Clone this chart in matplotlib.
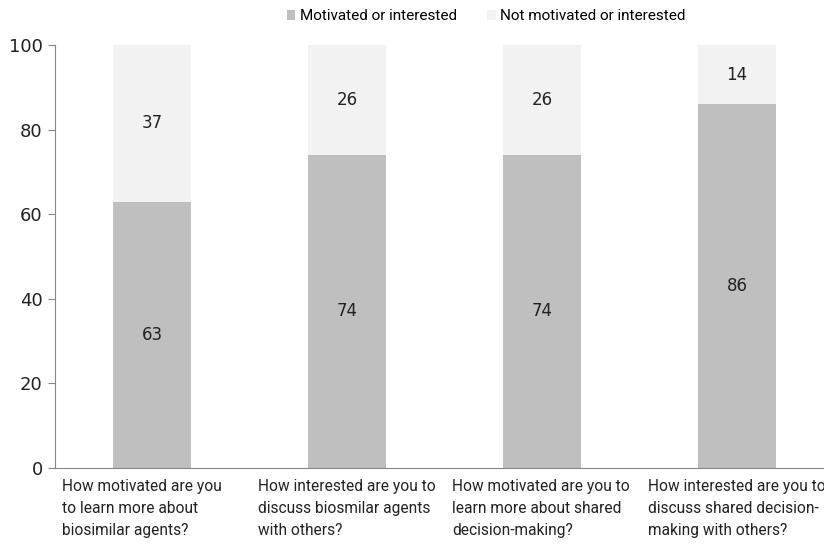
import numpy as np
import matplotlib
matplotlib.use('Agg')
import matplotlib.pyplot as plt

questions = [
    'How motivated are you\nto learn more about\nbiosimilar agents?',
    'How interested are you to\ndiscuss biosmilar agents\nwith others?',
    'How motivated are you to\nlearn more about shared\ndecision-making?',
    'How interested are you to\ndiscuss shared decision-\nmaking with others?',
]
motivated = [63, 74, 74, 86]
not_motivated = [37, 26, 26, 14]
series_names = ['Motivated or interested', 'Not motivated or interested']

plt.rcParams['font.family'] = ['DejaVu Sans']
narrow = 'Roboto'

fig = plt.figure(figsize=(8.24, 5.46), dpi=100)
ax = fig.add_axes([54.5 / 824, 78 / 546, 1 - 54.5 / 824, (468 - 45) / 546])

x = np.arange(len(questions))
dark = '#bfbfbf'
light = '#f2f2f2'
b1 = ax.bar(x, motivated, width=0.4, color=dark, label=series_names[0])
b2 = ax.bar(x, not_motivated, width=0.4, bottom=motivated, color=light, label=series_names[1])

for i in range(len(x)):
    ax.text(x[i], motivated[i] / 2, str(motivated[i]), ha='center', va='center',
            fontsize=12, color='#222222')
    ax.text(x[i], motivated[i] + not_motivated[i] / 2, str(not_motivated[i]),
            ha='center', va='center', fontsize=12, color='#222222')

ax.set_ylim(0, 100)
ax.set_xlim(-0.5, 3.5 - 10.5 / 195)
ax.set_yticks([0, 20, 40, 60, 80, 100])
ax.tick_params(axis='y', labelsize=13, length=5, color='#888888', labelcolor='#222222')
ax.set_xticks([])

for s in ['top', 'right']:
    ax.spines[s].set_visible(False)
for s in ['left', 'bottom']:
    ax.spines[s].set_color('#888888')

# category labels, left aligned within each slot
for i, q in enumerate(questions):
    ax.text(i - 0.5 + 8 / 195, -2.6, q, ha='left', va='top', fontsize=11.2,
            family=narrow, color='#222222', linespacing=1.6)

leg = fig.legend(handles=[b1, b2], loc='upper center', bbox_to_anchor=(0.59, 1.008),
                 ncol=2, frameon=False, handlelength=0.55, handleheight=0.55,
                 columnspacing=2.0, handletextpad=0.3, prop={'family': narrow, 'size': 11})

plt.savefig('out.png', dpi=100)
